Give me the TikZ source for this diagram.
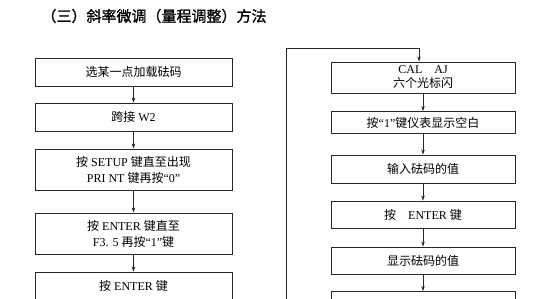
\documentclass[tikz,border=0pt]{standalone}
\usepackage{fontspec}
\setmainfont{Liberation Serif}
\newfontfamily\cjk{Noto Sans CJK SC}
\newfontfamily\cjkb[FakeBold=1.2]{Noto Sans CJK SC}
\newcommand\zh[1]{{\cjk #1}}
\usetikzlibrary{arrows.meta}
\begin{document}
\begin{tikzpicture}[x=1pt,y=-1pt,
  box/.style={draw=black!85, line width=0.9pt, align=center, inner sep=0pt,
    font=\fontsize{12}{16}\selectfont},
  lbox/.style={box, minimum width=197pt},
  rbox/.style={box, minimum width=184pt},
  arr/.style={draw=black!85, line width=0.7pt, -{Stealth[length=5pt,width=3.5pt]}}]
\useasboundingbox (0,0) rectangle (540,298);
\fill[white] (0,0) rectangle (540,298);
\clip (0,0) rectangle (540,298);
\node[font=\cjkb\fontsize{15}{18}\selectfont, anchor=west] (title) at (38,16) {（三）斜率微调（量程调整）方法};
% left column
\node[lbox, minimum height=28pt] (l1) at (133.5,72) {\zh{选某一点加载砝码}};
\node[lbox, minimum height=28pt] (l2) at (133.5,117) {\zh{跨接} W2};
\node[lbox, minimum height=41pt] (l3) at (133.5,169.5) {\zh{按} SETUP \zh{键直至出现}\\PRI NT \zh{键再按}“0”};
\node[lbox, minimum height=41pt] (l4) at (133.5,233.5) {\zh{按} ENTER \zh{键直至}\\F3. 5 \zh{再按}“1”\zh{键}};
\node[lbox, minimum height=28pt] (l5) at (133.5,286) {\zh{按} ENTER \zh{键}};
\draw[arr] (l1) -- (l2);
\draw[arr] (l2) -- (l3);
\draw[arr] (l3) -- (l4);
\draw[arr] (l4) -- (l5);
% right column
\node[rbox, minimum height=31pt, font=\fontsize{12}{14}\selectfont] (r1) at (423,77.5) {CAL\quad AJ\\\zh{六个光标闪}};
\node[rbox, minimum height=22pt] (r2) at (423,122.5) {\zh{按}“1”\zh{键仪表显示空白}};
\node[rbox, minimum height=28pt] (r3) at (423,169) {\zh{输入砝码的值}};
\node[rbox, minimum height=27pt] (r4) at (423,214.5) {\zh{按}\quad ENTER \zh{键}};
\node[rbox, minimum height=27pt] (r5) at (423,260.5) {\zh{显示砝码的值}};
\node[rbox, minimum height=27pt] (r6) at (423,305) {};
\draw[arr] (r1) -- (r2);
\draw[arr] (r2) -- (r3);
\draw[arr] (r3) -- (r4);
\draw[arr] (r4) -- (r5);
\draw[arr] (r5) -- (r6);
% loop back line
\coordinate (lb) at (286,320);
\coordinate (lt) at (286,48);
\draw[arr] (lb) -- (lt) -| ([xshift=-4pt]r1.north);
\end{tikzpicture}
\end{document}
